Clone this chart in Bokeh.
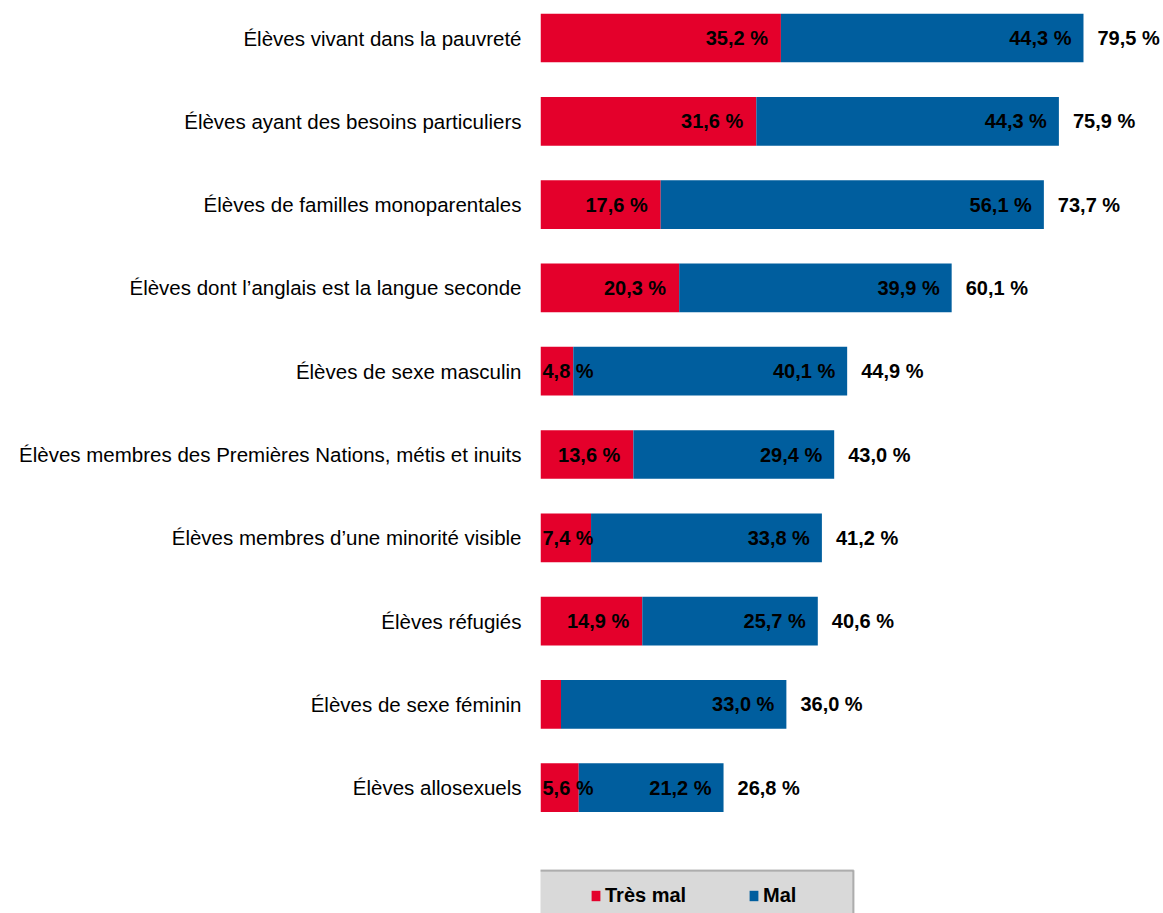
from bokeh.plotting import figure
from bokeh.models import (Range1d, FixedTicker, ColumnDataSource, Legend, LegendItem,
                          BoxAnnotation)
from bokeh.core.properties import value
from bokeh.embed import file_html
from bokeh.resources import INLINE

categories = [
    "Élèves vivant dans la pauvreté",
    "Élèves ayant des besoins particuliers",
    "Élèves de familles monoparentales",
    "Élèves dont l’anglais est la langue seconde",
    "Élèves de sexe masculin",
    "Élèves membres des Premières Nations, métis et inuits",
    "Élèves membres d’une minorité visible",
    "Élèves réfugiés",
    "Élèves de sexe féminin",
    "Élèves allosexuels",
]
tres_mal = [35.2, 31.6, 17.6, 20.3, 4.8, 13.6, 7.4, 14.9, 3.0, 5.6]
mal = [44.3, 44.3, 56.1, 39.9, 40.1, 29.4, 33.8, 25.7, 33.0, 21.2]
total = [79.5, 75.9, 73.7, 60.1, 44.9, 43.0, 41.2, 40.6, 36.0, 26.8]
show_tres_mal_label = [True, True, True, True, True, True, True, True, False, True]

RED = "#E4002B"
BLUE = "#005E9E"
FONT = "Liberation Sans"


def fmt(v):
    return f"{v:.1f}".replace(".", ",") + " %"


pos = list(range(len(categories)))
ends = [a + b for a, b in zip(tres_mal, mal)]

src = ColumnDataSource(dict(
    y=pos, tres_mal=tres_mal, mal=mal, end=ends,
))

PX = 6.83  # pixels per percentage point
UNIT = 83.3  # pixels per category

p = figure(width=1163, height=913, output_backend="svg", toolbar_location=None,
           x_range=Range1d(0, 623 / PX),
           y_range=Range1d(913 / UNIT - 37.5 / UNIT, -37.5 / UNIT),
           min_border_left=540, min_border_right=0, min_border_top=0,
           min_border_bottom=0, outline_line_color=None)
p.xaxis.visible = False
p.xgrid.visible = False
p.ygrid.visible = False

r_red = p.hbar(y="y", left=0, right="tres_mal", height=0.585, color=RED,
               line_color=None, source=src)
r_blue = p.hbar(y="y", left="tres_mal", right="end", height=0.585, color=BLUE,
                line_color=None, source=src)

# red labels
inside = [(i, v) for i, v in enumerate(tres_mal) if show_tres_mal_label[i] and v >= 10]
small = [(i, v) for i, v in enumerate(tres_mal) if show_tres_mal_label[i] and v < 10]
lab_style = dict(text_font=value(FONT), text_font_style="bold", text_font_size="20px",
                 text_color="black", text_baseline="middle")
p.text(x=[v for _, v in inside], y=[i for i, _ in inside],
       text=[fmt(v) for _, v in inside], x_offset=-13, text_align="right", **lab_style)
p.text(x=[0 for _ in small], y=[i for i, _ in small],
       text=[fmt(v) for _, v in small], x_offset=2, text_align="left", **lab_style)
# blue labels
p.text(x=ends, y=pos, text=[fmt(v) for v in mal], x_offset=-12, text_align="right",
       **lab_style)
# totals
p.text(x=ends, y=pos, text=[fmt(v) for v in total], x_offset=14, text_align="left",
       **lab_style)

p.yaxis.ticker = FixedTicker(ticks=pos)
p.yaxis.major_label_overrides = {i: c for i, c in enumerate(categories)}
p.yaxis.axis_line_color = None
p.yaxis.major_tick_line_color = None
p.yaxis.minor_tick_line_color = None
p.yaxis.major_label_standoff = 13
p.yaxis.major_label_text_font = FONT
p.yaxis.major_label_text_font_size = "20.5px"
p.yaxis.major_label_text_color = "black"

box = BoxAnnotation(left=-3 / PX, right=313 / PX,
                    top=870 / UNIT - 37.5 / UNIT, bottom=940 / UNIT - 37.5 / UNIT,
                    fill_color="#D9D9D9", fill_alpha=1.0,
                    line_color="#1a1a1a", line_width=2)
p.add_layout(box)

legend = Legend(items=[LegendItem(label="Très mal", renderers=[r_red]),
                       LegendItem(label="Mal", renderers=[r_blue])],
                orientation="horizontal", location=(50, 6),
                background_fill_alpha=0, border_line_color=None,
                glyph_width=11, glyph_height=13, label_standoff=4,
                label_width=143, spacing=0, padding=5, margin=0,
                label_text_font=FONT, label_text_font_style="bold",
                label_text_font_size="20px", label_text_color="black")
p.add_layout(legend, "center")

open("out.html", "w").write(file_html(p, INLINE))
